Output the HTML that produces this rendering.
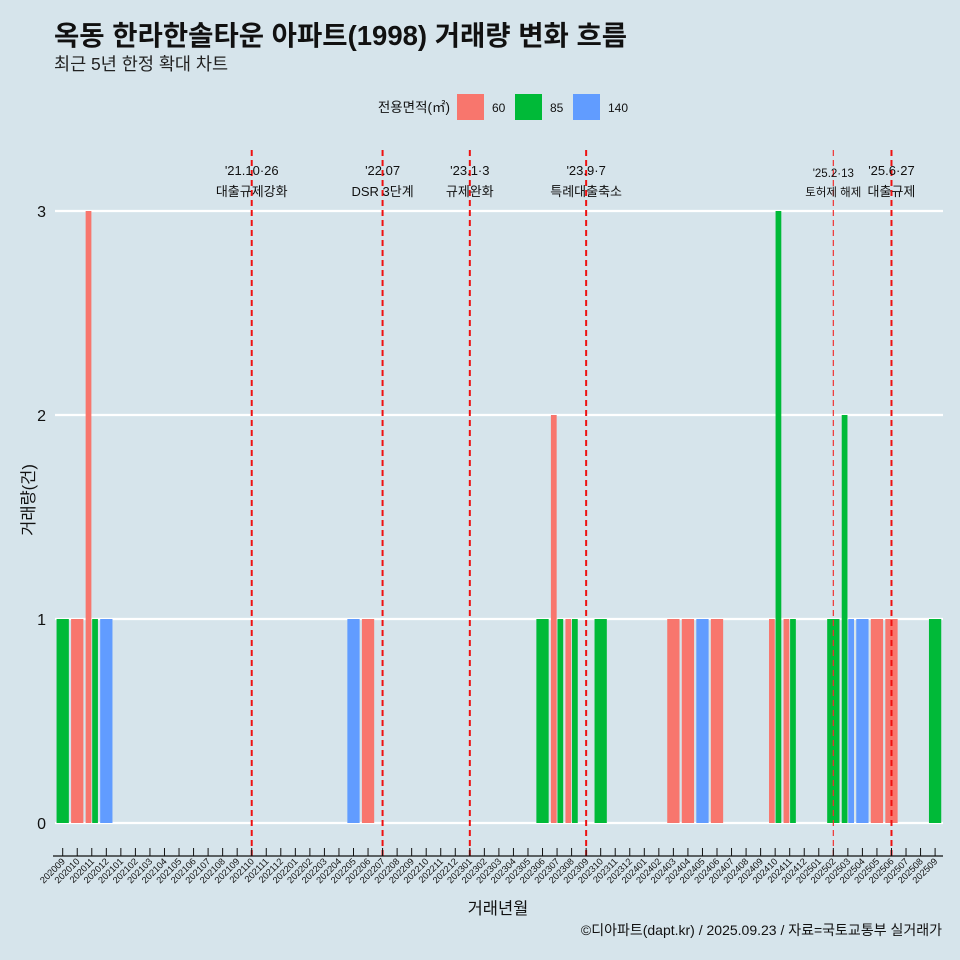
<!DOCTYPE html>
<html><head><meta charset="utf-8">
<style>
html,body{margin:0;padding:0;background:#d6e4eb;}
svg{display:block;font-family:"Liberation Sans","Noto Sans CJK KR",sans-serif;}
</style></head>
<body>
<svg id="chart" width="960" height="960" viewBox="0 0 960 960">
<rect width="960" height="960" fill="#d6e4eb"/>
<text x="54" y="45" font-size="27.5" font-weight="bold" fill="#111">옥동 한라한솔타운 아파트(1998) 거래량 변화 흐름</text>
<text x="54" y="70" font-size="17.5" fill="#222">최근 5년 한정 확대 차트</text>
<g>
<text x="450" y="112" font-size="13.5" text-anchor="end" fill="#111">전용면적(㎡)</text>
<rect x="457" y="94" width="27" height="26" fill="#f8766d"/>
<text x="492" y="112" font-size="12" fill="#111">60</text>
<rect x="515" y="94" width="27" height="26" fill="#00ba38"/>
<text x="550" y="112" font-size="12" fill="#111">85</text>
<rect x="573" y="94" width="27" height="26" fill="#619cff"/>
<text x="608" y="112" font-size="12" fill="#111">140</text>
</g>
<g id="grid"></g><g id="bars"></g><g id="events"></g><g id="xaxis"></g>
<text x="34" y="500" font-size="16.5" fill="#111" text-anchor="middle" transform="rotate(-90 34 500)">거래량(건)</text>
<text x="498" y="914" font-size="16.5" fill="#111" text-anchor="middle">거래년월</text>
<text x="942" y="935" font-size="14" fill="#111" text-anchor="end">©디아파트(dapt.kr) / 2025.09.23 / 자료=국토교통부 실거래가</text>
</svg>
<script>
const months = [];
for (let y = 2020, m = 9; !(y === 2025 && m === 10); ) { months.push(String(y) + String(m).padStart(2, '0')); m++; if (m > 12) { m = 1; y++; } }
const areaGroups = ['60', '85', '140'];
const groupColors = { '60': '#f8766d', '85': '#00ba38', '140': '#619cff' };
const trades60 = { '202010': 1, '202011': 3, '202206': 1, '202307': 2, '202308': 1, '202403': 1, '202404': 1, '202406': 1, '202410': 1, '202411': 1, '202505': 1, '202506': 1 };
const trades85 = { '202009': 1, '202011': 1, '202306': 1, '202307': 1, '202308': 1, '202310': 1, '202410': 3, '202411': 1, '202502': 1, '202503': 2, '202509': 1 };
const trades140 = { '202012': 1, '202205': 1, '202405': 1, '202503': 1, '202504': 1 };
const yTicks = [0, 1, 2, 3];
const eventMonths = ['202110', '202207', '202301', '202309', '202502', '202506'];
const eventDates = ["'21.10·26", "'22.07", "'23.1·3", "'23.9·7", "'25.2·13", "'25.6·27"];
const eventLabels = ['대출규제강화', 'DSR 3단계', '규제완화', '특례대출축소', '토허제 해제', '대출규제'];

const NS = 'http://www.w3.org/2000/svg';
const x0 = 62.7, step = 14.54, y0 = 823, unit = 204;
const xScale = i => x0 + i * step;
const yScale = v => y0 - v * unit;
function mk(tag, attrs, parent) { const e = document.createElementNS(NS, tag); for (const k in attrs) e.setAttribute(k, attrs[k]); document.getElementById(parent).appendChild(e); return e; }

yTicks.forEach(t => {
  const l = mk('line', { x1: 55, x2: 943, y1: yScale(t), y2: yScale(t), stroke: '#fff', 'stroke-width': 2.2 }, 'grid');
  
  
  const tx = mk('text', { x: 46, y: yScale(t) + 6, 'font-size': 16, 'text-anchor': 'end', fill: '#111' }, 'grid');
  tx.textContent = t;
  
  
});

const series = { '60': trades60, '85': trades85, '140': trades140 };
months.forEach((m, i) => {
  const present = areaGroups.filter(g => series[g][m]);
  if (!present.length) return;
  const total = step * 0.9, w = total / present.length, left = xScale(i) - total / 2;
  present.forEach((g, j) => {
    const v = series[g][m];
    const r = mk('rect', { x: left + j * w + 0.4, y: yScale(v), width: w - 0.8, height: yScale(0) - yScale(v), fill: groupColors[g] }, 'bars');
    
    
  });
});

eventMonths.forEach((m, k) => {
  const x = xScale(months.indexOf(m));
  const thin = m === '202502';
  const l = mk('line', { x1: x, x2: x, y1: 150, y2: 856, stroke: thin ? '#f03030' : '#ee1111', 'stroke-width': thin ? 1.2 : 2, 'stroke-dasharray': '6,4' }, 'events');
  
  
  const fs = thin ? 11.5 : 13;
  const t1 = mk('text', { x: x, y: thin ? 177 : 175, 'font-size': fs, 'text-anchor': 'middle', fill: '#111' }, 'events');
  t1.textContent = eventDates[k];
  
  
  const t2 = mk('text', { x: x, y: 196, 'font-size': fs, 'text-anchor': 'middle', fill: '#111' }, 'events');
  t2.textContent = eventLabels[k];
  
  
});

const ax = mk('line', { x1: 53, x2: 943, y1: 856, y2: 856, stroke: '#111', 'stroke-width': 1.3 }, 'xaxis');


months.forEach((m, i) => {
  const x = xScale(i);
  const tk = mk('line', { x1: x, x2: x, y1: 848, y2: 856, stroke: '#111', 'stroke-width': 1 }, 'xaxis');
  
  
  const lb = mk('text', { x: x + 3, y: 862, 'font-size': 9.3, 'text-anchor': 'end', fill: '#111', transform: 'rotate(-45 ' + (x + 3) + ' 862)' }, 'xaxis');
  lb.textContent = m;
  
  
});
</script>
</body></html>
